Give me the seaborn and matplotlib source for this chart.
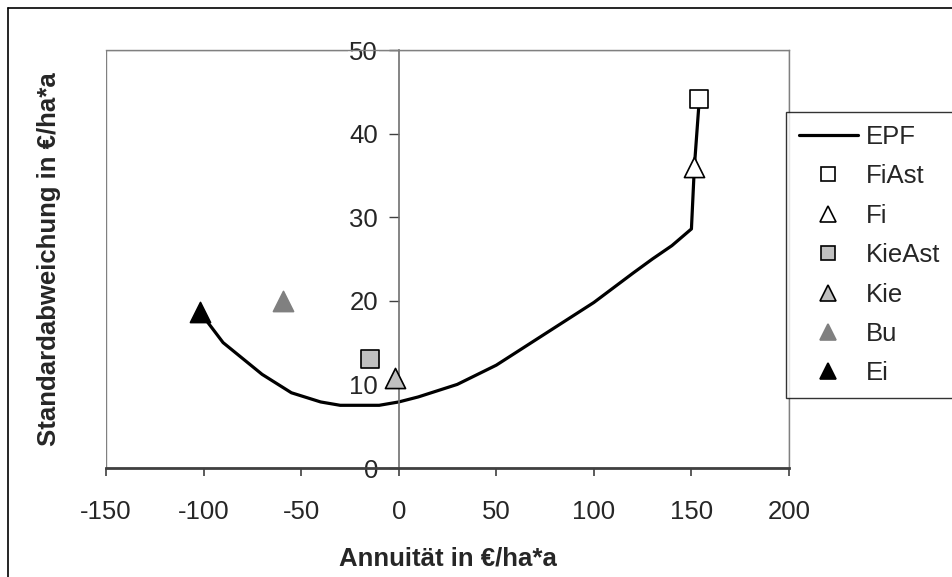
import matplotlib
matplotlib.use("Agg")
import matplotlib.pyplot as plt
import seaborn as sns
import pandas as pd
from matplotlib.lines import Line2D
from matplotlib.patches import Rectangle

# ---- data ----
epf_x = [-102, -90, -70, -55, -40, -30, -10, 0, 10, 30, 50, 60, 80, 100, 120, 130, 140, 150, 151.5, 154]
epf_y = [18.7, 15.0, 11.2, 9.0, 7.9, 7.5, 7.5, 7.9, 8.5, 10.0, 12.3, 13.8, 16.8, 19.8, 23.3, 25.0, 26.6, 28.6, 36.0, 44.0]

names = ["FiAst", "Fi", "KieAst", "Kie", "Bu", "Ei"]
pt_x = [154, 151.5, -14.5, -1.7, -59.2, -102]
pt_y = [44.1, 36.0, 13.0, 10.8, 20.0, 18.7]
pt_marker = ["s", "^", "s", "^", "^", "^"]
pt_face = ["white", "white", "#c0c0c0", "#c0c0c0", "#808080", "black"]
pt_edge = ["black", "black", "black", "black", "#808080", "black"]

x_ticks = [-150, -100, -50, 0, 50, 100, 150, 200]
y_ticks = [0, 10, 20, 30, 40, 50]

sns.set_theme(style="white")
plt.rcParams["font.family"] = ["Liberation Sans", "DejaVu Sans"]

W, H = 953, 577
ax_left, ax_right, ax_top, ax_bottom = 106, 789, 50, 468
fig = plt.figure(figsize=(W / 100, H / 100), dpi=100)
ax = fig.add_axes([ax_left / W, 1 - ax_bottom / H, (ax_right - ax_left) / W, (ax_bottom - ax_top) / H])

epf = pd.DataFrame({"x": epf_x, "y": epf_y})
sns.lineplot(data=epf, x="x", y="y", sort=False, color="black", lw=2.3, ax=ax, label="EPF", legend=False)

handles = [Line2D([], [], color="black", lw=2.3)]
for n, x, y, m, fc, ec in zip(names, pt_x, pt_y, pt_marker, pt_face, pt_edge):
    size = 13 ** 2 if m == "s" else 14.5 ** 2
    sns.scatterplot(x=[x], y=[y], marker=m, s=size, color=fc, edgecolor=ec, linewidth=1.2,
                    ax=ax, zorder=5, legend=False)
    handles.append(Line2D([], [], ls="none", marker=m, markersize=(10.5 if m == "s" else 11.5),
                          markerfacecolor=fc, markeredgecolor=ec, markeredgewidth=1.2))

ax.set_xlim(-150, 200)
ax.set_ylim(0, 50)
ax.set_xticks(x_ticks)
ax.set_yticks(y_ticks)
ax.set_xticklabels([str(v) for v in x_ticks])
ax.set_yticklabels([str(v) for v in y_ticks])

for s in ["top", "right"]:
    ax.spines[s].set_visible(True)
    ax.spines[s].set_color("#808080")
    ax.spines[s].set_linewidth(1.0)
ax.spines["left"].set_position(("data", 0))
ax.spines["left"].set_color("#707070")
ax.spines["left"].set_linewidth(1.2)
ax.spines["bottom"].set_color("#404040")
ax.spines["bottom"].set_linewidth(2.0)
# plot-area frame
ax.add_patch(Rectangle((0, 0), 1, 1, transform=ax.transAxes, fill=False,
                       edgecolor="#808080", lw=1.0, zorder=0.5))

ax.tick_params(axis="x", direction="out", length=6, width=1.2, color="#404040",
               labelsize=18.5, pad=17, bottom=True)
ax.tick_params(axis="y", direction="out", length=7, width=1.0, color="#404040",
               labelsize=18.5, pad=8, left=True)
for lab in ax.get_yticklabels():
    lab.set_bbox(dict(facecolor="white", edgecolor="none", pad=0.5))

ax.set_xlabel("Annuität in €/ha*a", fontsize=18.5, fontweight="bold", labelpad=16)
ax.set_ylabel("Standardabweichung in €/ha*a", fontsize=18.5, fontweight="bold")
ax.yaxis.set_label_coords(61 / W, 1 - ((ax_top + ax_bottom) / 2) / H, transform=fig.transFigure)

leg = fig.legend(handles, ["EPF"] + names, loc="upper left",
                 bbox_to_anchor=(786 / W, 1 - 112 / H), bbox_transform=fig.transFigure,
                 fontsize=18.5, frameon=True, fancybox=False, borderpad=0.5,
                 handlelength=2.3, handletextpad=0.3, labelspacing=0.6, borderaxespad=0)
leg.get_frame().set_edgecolor("black")
leg.get_frame().set_linewidth(1.0)

# outer chart border (top and left visible)
fig.add_artist(Line2D([8 / W, 8 / W], [0, 1 - 8 / H], transform=fig.transFigure, color="black", lw=1.2))
fig.add_artist(Line2D([8 / W, 1], [1 - 8 / H, 1 - 8 / H], transform=fig.transFigure, color="black", lw=1.2))

fig.savefig("out.png", dpi=100)
